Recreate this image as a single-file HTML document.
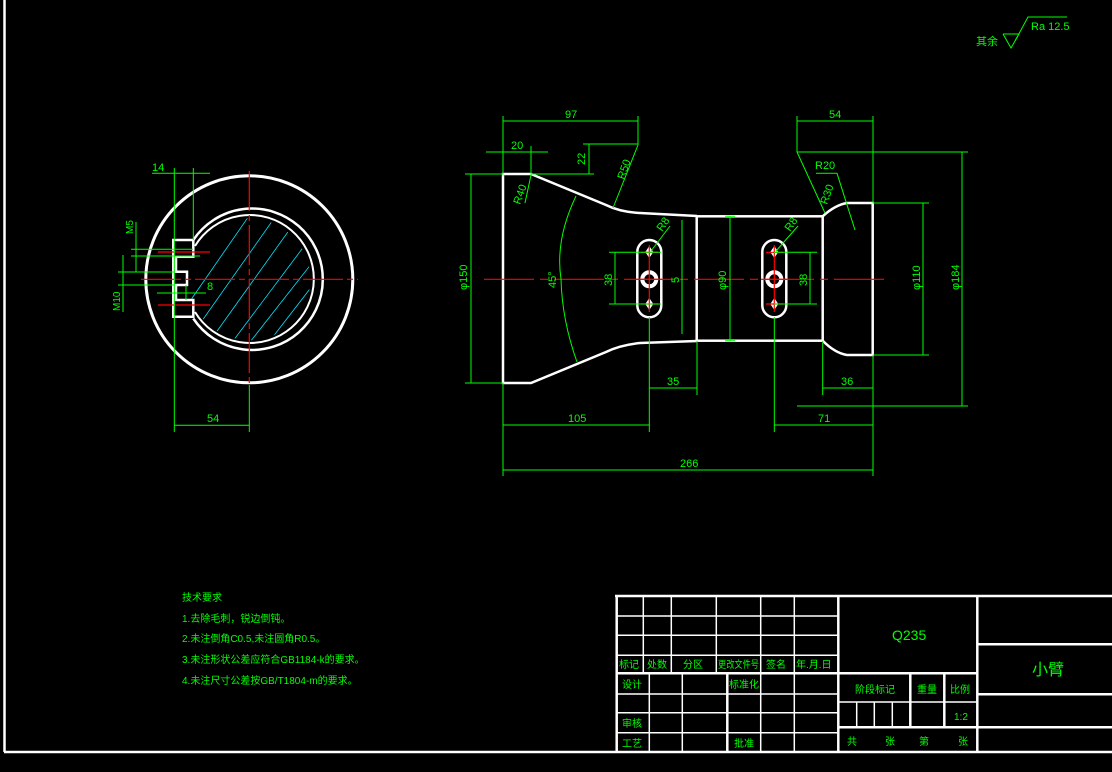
<!DOCTYPE html>
<html><head><meta charset="utf-8">
<style>
html,body{margin:0;padding:0;background:#000;width:1112px;height:772px;overflow:hidden}
svg{display:block}
text{font-family:"Liberation Sans","Noto Sans CJK SC",sans-serif;fill:#00ff00}
</style></head><body>
<svg width="1112" height="772" viewBox="0 0 1112 772" xmlns="http://www.w3.org/2000/svg">
<defs>
<clipPath id="hc"><circle cx="249.3" cy="279.3" r="61"/></clipPath>
</defs>
<rect width="1112" height="772" fill="#000"/>
<g stroke="#fff" stroke-width="2.5" fill="none">
<line x1="4.5" y1="0" x2="4.5" y2="752"/>
<line x1="4" y1="752" x2="1112" y2="752"/>
</g>

<text x="976" y="45" font-size="11">其余</text>
<polyline points="1003,34 1019,34 1011,48 1003,34" fill="none" stroke="#00ff00" stroke-width="1"/>
<polyline points="1015,41 1028,17 1067,17" fill="none" stroke="#00ff00" stroke-width="1"/>
<text x="1031" y="30" font-size="11">Ra 12.5</text>

<g stroke="#fff" fill="none">
<circle cx="249.3" cy="279.3" r="103.5" stroke-width="3"/>
<path d="M193.3,240 A70.7,70.7 0 1 1 193.3,318.5" stroke-width="2.5"/>
<path d="M195,246 A64,64 0 1 1 195,312" stroke-width="2"/>
<path d="M173.3,240 L193.3,240 L193.3,256.7 L176,256.7 L176,271.7 L187,271.7 L187,285 L176,285 L176,300 L193.3,300 L193.3,316.7 L173.3,316.7 Z" stroke-width="2.5"/>
</g>
<g clip-path="url(#hc)" stroke="#00e5ff" stroke-width="0.8">
<line x1="170" y1="330" x2="260" y2="200"/>
<line x1="185" y1="345" x2="280" y2="210"/>
<line x1="200" y1="355" x2="300" y2="215"/>
<line x1="215" y1="365" x2="320" y2="225"/>
<line x1="232" y1="365" x2="330" y2="240"/>
<line x1="255" y1="360" x2="340" y2="250"/>
<line x1="150" y1="300" x2="240" y2="195"/>
</g>
<g stroke="#ff0000" stroke-width="1.2">
<line x1="141" y1="279.3" x2="358" y2="279.3" stroke-dasharray="40,4,6,4"/>
<line x1="249.3" y1="171" x2="249.3" y2="385" stroke-dasharray="40,4,6,4"/>
<line x1="158" y1="252" x2="210" y2="252"/>
<line x1="158" y1="305" x2="210" y2="305"/>
</g>
<g stroke="#00ff00" stroke-width="1" fill="none">
<line x1="152" y1="173.3" x2="210" y2="173.3"/>
<line x1="174.3" y1="168" x2="174.3" y2="432"/>
<line x1="193.3" y1="168" x2="193.3" y2="240"/>
<line x1="174" y1="425.3" x2="249.3" y2="425.3"/>
<line x1="249.3" y1="385" x2="249.3" y2="432"/>
<line x1="136" y1="222" x2="136" y2="272"/>
<line x1="131" y1="249.3" x2="193" y2="249.3"/>
<line x1="131" y1="256" x2="200" y2="256"/>
<line x1="123" y1="255" x2="123" y2="312"/>
<line x1="118" y1="272" x2="175" y2="272"/>
<line x1="118" y1="285" x2="175" y2="285"/>
<line x1="157" y1="293" x2="206" y2="293"/>
<line x1="186" y1="285" x2="186" y2="300"/>
</g>
<text x="152" y="171" font-size="11">14</text>
<text x="207" y="422" font-size="11">54</text>
<text x="207" y="290" font-size="11">8</text>
<text transform="translate(133,234) rotate(-90)" font-size="10">M5</text>
<text transform="translate(120,311) rotate(-90)" font-size="10">M10</text>

<g stroke="#fff" stroke-width="2.5" fill="none">
<path d="M531,174 L503,174 L503,383 L531,383 L606,352 Q620,345 640,343 L697,341"/>
<path d="M531,174 L606,205 Q620,212 640,213 L697,216"/>
<rect x="696.7" y="216.3" width="126" height="124.4"/>
<path d="M822.7,216.3 Q835,205 847,203 L872.7,203 L872.7,355 L847,355 Q835,353 822.7,340.7"/>
<rect x="637.3" y="240" width="24" height="77.3" rx="12"/>
<rect x="762.3" y="240" width="24" height="77.3" rx="12"/>
<circle cx="649.3" cy="279.3" r="7" stroke-width="4"/>
<circle cx="774.3" cy="279.3" r="7" stroke-width="4"/>
</g>
<g fill="#fff">
<path d="M649.3,246 l4,6 l-4,6 l-4,-6z"/><path d="M649.3,298 l4,6 l-4,6 l-4,-6z"/>
<path d="M774.3,246 l4,6 l-4,6 l-4,-6z"/><path d="M774.3,298 l4,6 l-4,6 l-4,-6z"/>
</g>
<g stroke="#ff0000" stroke-width="1.2">
<line x1="484" y1="279.3" x2="890" y2="279.3" stroke-dasharray="50,6,8,6"/>
<line x1="649.3" y1="245" x2="649.3" y2="312"/>
<line x1="774.3" y1="245" x2="774.3" y2="312"/>
<line x1="641" y1="252.3" x2="658" y2="252.3"/><line x1="641" y1="304" x2="658" y2="304"/>
<line x1="766" y1="252.3" x2="783" y2="252.3"/><line x1="766" y1="304" x2="783" y2="304"/>
<line x1="636" y1="279.3" x2="662" y2="279.3"/><line x1="761" y1="279.3" x2="787" y2="279.3"/>
</g>
<g stroke="#00ff00" stroke-width="1" fill="none">
<line x1="503" y1="121" x2="638" y2="121"/><line x1="503" y1="116" x2="503" y2="174"/><line x1="638" y1="116" x2="638" y2="145"/>
<line x1="486" y1="152" x2="548" y2="152"/><line x1="531" y1="146" x2="531" y2="175"/>
<line x1="589" y1="144" x2="589" y2="174"/><line x1="583" y1="144" x2="638" y2="144"/><line x1="531" y1="174" x2="594" y2="174"/>
<line x1="638" y1="145" x2="613" y2="208"/>
<line x1="531" y1="175" x2="525" y2="203"/>
<path d="M576,196 Q555,240 561,279 Q562,320 577,362"/>
<line x1="471" y1="174" x2="471" y2="383"/><line x1="465" y1="174" x2="503" y2="174"/><line x1="465" y1="383" x2="503" y2="383"/>
<line x1="615" y1="252.3" x2="615" y2="304"/><line x1="609" y1="252.3" x2="661" y2="252.3"/><line x1="609" y1="304" x2="661" y2="304"/>
<line x1="682" y1="220" x2="682" y2="334"/>
<line x1="730" y1="216" x2="730" y2="341"/><line x1="725" y1="216.3" x2="735" y2="216.3"/><line x1="725" y1="340.7" x2="735" y2="340.7"/>
<line x1="810" y1="252.3" x2="810" y2="304"/><line x1="774" y1="252.3" x2="817" y2="252.3"/><line x1="774" y1="304" x2="817" y2="304"/>
<line x1="923" y1="203" x2="923" y2="355"/><line x1="873" y1="203" x2="929" y2="203"/><line x1="873" y1="355" x2="929" y2="355"/>
<line x1="962" y1="152" x2="962" y2="406"/><line x1="797" y1="152" x2="968" y2="152"/><line x1="797" y1="406" x2="968" y2="406"/>
<line x1="797" y1="121" x2="873" y2="121"/><line x1="797" y1="116" x2="797" y2="152"/><line x1="873" y1="116" x2="873" y2="203"/>
<polyline points="816,173.3 837,173.3 855,230"/>
<line x1="797" y1="152" x2="825" y2="213"/>
<line x1="670" y1="226" x2="651" y2="251"/>
<line x1="798" y1="226" x2="776" y2="251"/>
<line x1="649.3" y1="388" x2="697" y2="388"/><line x1="697" y1="341" x2="697" y2="395"/><line x1="649.3" y1="317" x2="649.3" y2="432"/>
<line x1="822.7" y1="388" x2="873" y2="388"/><line x1="822.7" y1="341" x2="822.7" y2="395"/>
<line x1="503" y1="425" x2="649.3" y2="425"/><line x1="503" y1="383" x2="503" y2="476"/>
<line x1="774.3" y1="425" x2="873" y2="425"/><line x1="774.3" y1="317" x2="774.3" y2="432"/><line x1="873" y1="355" x2="873" y2="476"/>
<line x1="503" y1="470" x2="873" y2="470"/>
</g>
<g font-size="11">
<text x="565" y="118">97</text>
<text x="511" y="149">20</text>
<text transform="translate(585,165) rotate(-90)">22</text>
<text transform="translate(624,180) rotate(-70)">R50</text>
<text transform="translate(520,205) rotate(-70)">R40</text>
<text transform="translate(556,288) rotate(-90)">45°</text>
<text transform="translate(467,290) rotate(-90)">φ150</text>
<text transform="translate(612,286) rotate(-90)">38</text>
<text transform="translate(679,283) rotate(-90)">5</text>
<text transform="translate(726,290) rotate(-90)">φ90</text>
<text transform="translate(807,286) rotate(-90)">38</text>
<text transform="translate(920,290) rotate(-90)">φ110</text>
<text transform="translate(959,290) rotate(-90)">φ184</text>
<text x="829" y="118">54</text>
<text x="815" y="169">R20</text>
<text transform="translate(827,205) rotate(-70)">R30</text>
<text transform="translate(662,232) rotate(-55)">R8</text>
<text transform="translate(790,232) rotate(-55)">R8</text>
<text x="667" y="385">35</text>
<text x="841" y="385">36</text>
<text x="568" y="422">105</text>
<text x="818" y="422">71</text>
<text x="680" y="467">266</text>
</g>

<g font-size="10">
<text x="182" y="601">技术要求</text>
<text x="182" y="622">1.去除毛刺，锐边倒钝。</text>
<text x="182" y="642">2.未注倒角C0.5,未注圆角R0.5。</text>
<text x="182" y="663">3.未注形状公差应符合GB1184-k的要求。</text>
<text x="182" y="684">4.未注尺寸公差按GB/T1804-m的要求。</text>
</g>

<g stroke="#fff" fill="none">
<g stroke-width="2.5">
<line x1="615" y1="596" x2="1112" y2="596"/>
<line x1="616.7" y1="596" x2="616.7" y2="752"/>
<line x1="616.7" y1="673.3" x2="838" y2="673.3"/>
<line x1="838.3" y1="596" x2="838.3" y2="752"/>
<line x1="727.3" y1="673.3" x2="727.3" y2="752"/>
<line x1="977.3" y1="596" x2="977.3" y2="752"/>
<line x1="944.3" y1="673.3" x2="944.3" y2="727.3"/>
<line x1="838.3" y1="673.3" x2="977" y2="673.3"/>
<line x1="838.3" y1="727.3" x2="1112" y2="727.3"/>
<line x1="977.3" y1="644.3" x2="1112" y2="644.3"/>
<line x1="977.3" y1="694.3" x2="1112" y2="694.3"/>
<line x1="910.3" y1="673.3" x2="910.3" y2="727.3"/>
</g>
<g stroke-width="1.5">
<line x1="616.7" y1="616" x2="838" y2="616"/>
<line x1="616.7" y1="635.3" x2="838" y2="635.3"/>
<line x1="616.7" y1="655.3" x2="838" y2="655.3"/>
<line x1="643.3" y1="596" x2="643.3" y2="673"/>
<line x1="671.3" y1="596" x2="671.3" y2="673"/>
<line x1="716.3" y1="596" x2="716.3" y2="673"/>
<line x1="760.7" y1="596" x2="760.7" y2="752"/>
<line x1="794.3" y1="596" x2="794.3" y2="752"/>
<line x1="616.7" y1="694" x2="838" y2="694"/>
<line x1="616.7" y1="712.7" x2="838" y2="712.7"/>
<line x1="616.7" y1="732.7" x2="838" y2="732.7"/>
<line x1="649.3" y1="673.3" x2="649.3" y2="752"/>
<line x1="682.3" y1="673.3" x2="682.3" y2="752"/>
<line x1="838.3" y1="702" x2="977" y2="702"/>
<line x1="856.7" y1="702" x2="856.7" y2="727.3"/>
<line x1="874.3" y1="702" x2="874.3" y2="727.3"/>
<line x1="892.3" y1="702" x2="892.3" y2="727.3"/>
</g>
</g>
<g font-size="10">
<text x="619" y="668">标记</text>
<text x="647" y="668">处数</text>
<text x="683" y="668">分区</text>
<text x="718" y="668" textLength="41" lengthAdjust="spacingAndGlyphs">更改文件号</text>
<text x="766" y="668">签名</text>
<text x="796" y="668">年.月.日</text>
<text x="622" y="688">设计</text>
<text x="729" y="688">标准化</text>
<text x="622" y="727">审核</text>
<text x="622" y="747">工艺</text>
<text x="734" y="747">批准</text>
<text x="855" y="693">阶段标记</text>
<text x="917" y="693">重量</text>
<text x="950" y="693">比例</text>
<text x="954" y="720">1:2</text>
<text x="847" y="745">共</text>
<text x="885" y="745">张</text>
<text x="919" y="745">第</text>
<text x="958" y="745">张</text>
</g>
<text x="892" y="640" font-size="14">Q235</text>
<text x="1032" y="675" font-size="16">小臂</text>
</svg>
</body></html>
